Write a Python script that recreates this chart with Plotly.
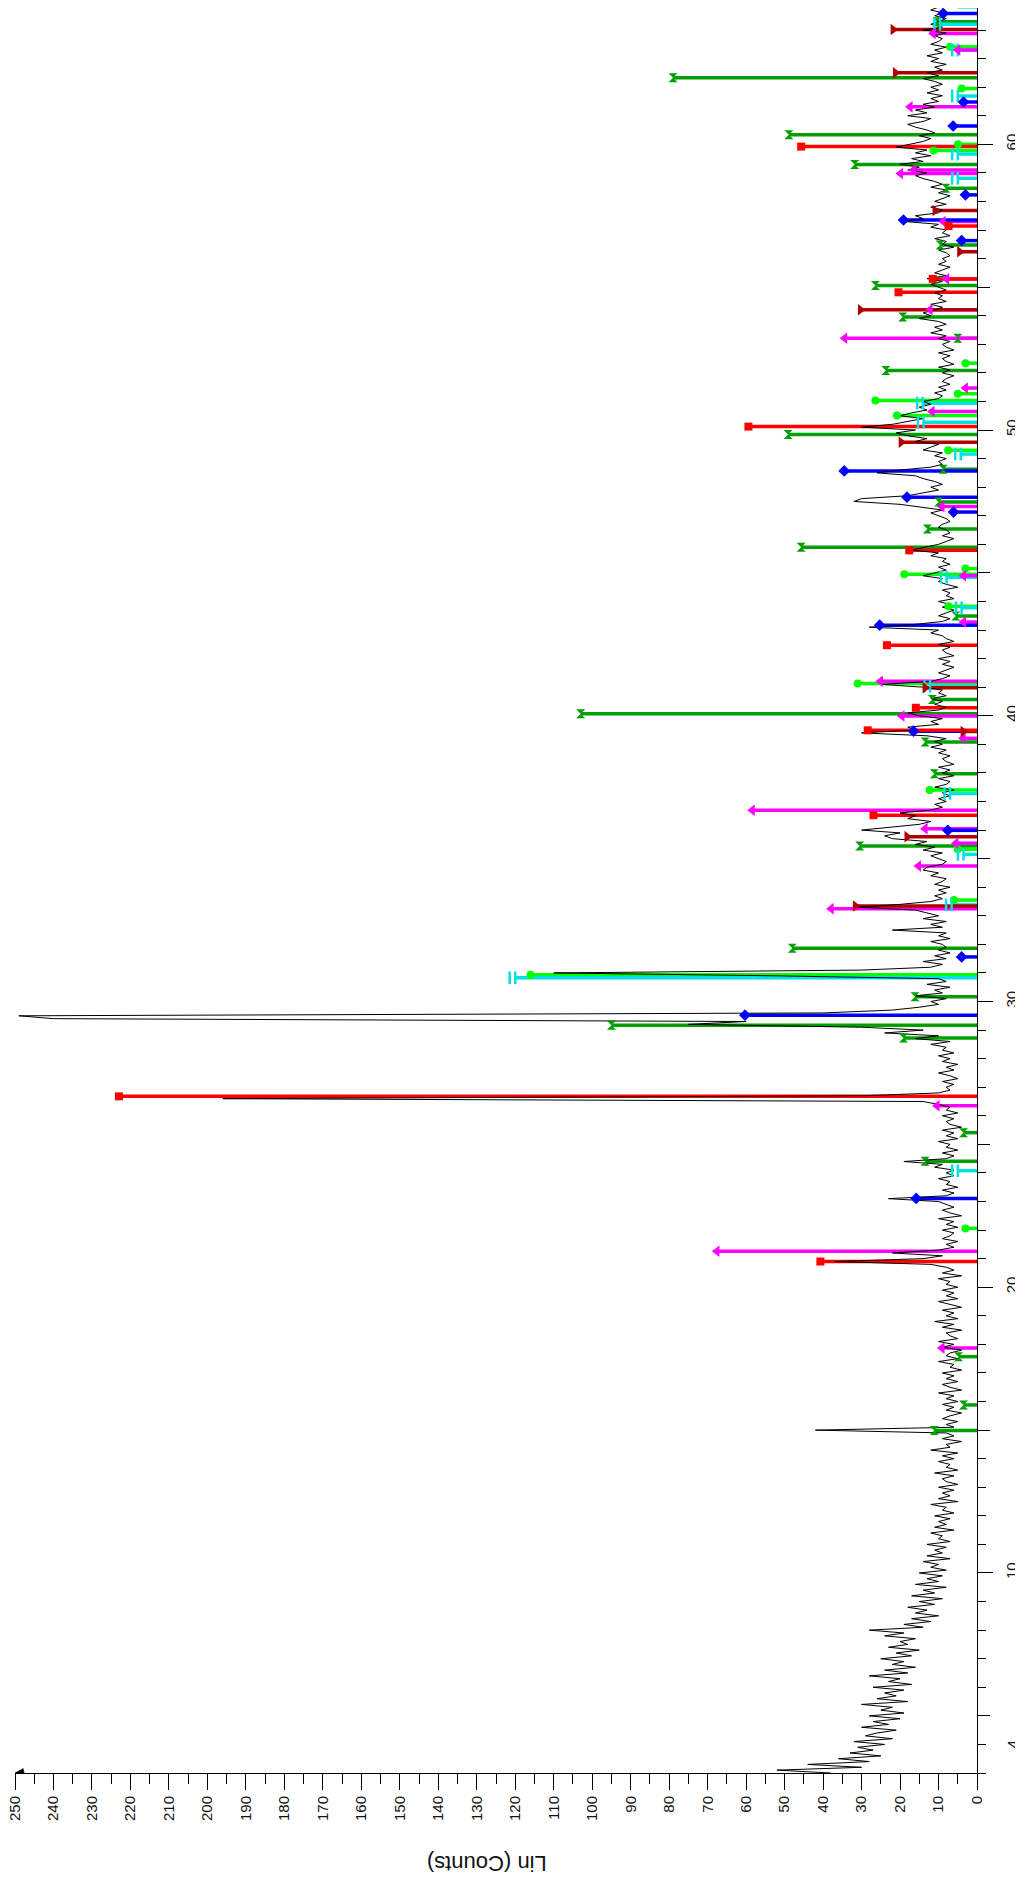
import numpy as np
import plotly.graph_objects as go

# ---------------- data ----------------
two_theta_start = 3.0
two_theta_step = 0.1

counts_03_14 = [
    38, 52, 30, 44, 28, 36, 25, 33, 27, 31,
    24, 32, 22, 29, 26, 21, 30, 23, 27, 20,
    28, 19, 25, 22, 30, 18, 26, 21, 24, 19,
    27, 17, 23, 20, 28, 18, 24, 16, 22, 19,
    25, 17, 21, 15, 23, 18, 20, 16, 24, 19,
    28, 14, 19, 12, 17, 10, 16, 13, 18, 11,
    15, 9, 17, 11, 14, 8, 16, 10, 13, 9,
    15, 8, 12, 10, 14, 7, 13, 9, 11, 8,
    13, 7, 10, 9, 12, 6, 11, 8, 10, 7,
    11, 6, 9, 8, 12, 5, 10, 7, 9, 6,
    10, 5, 8, 9, 6, 11, 5, 8, 7, 10,
    6, 9, 5, 12, 7, 8, 4, 9, 6, 8,
]
counts_15_29 = [
    42, 6, 8, 5, 9, 7, 4, 8, 6, 9,
    5, 8, 6, 10, 4, 7, 9, 5, 8, 6,
    9, 4, 7, 6, 10, 5, 8, 7, 4, 9,
    6, 10, 5, 7, 8, 4, 9, 6, 11, 5,
    8, 6, 9, 4, 7, 10, 5, 8, 6, 9,
    5, 8, 7, 10, 4, 9, 6, 8, 12, 37,
    14, 9, 22, 10, 6, 8, 5, 9, 7, 6,
    9, 5, 8, 6, 10, 4, 7, 9, 6, 8,
    10, 23, 8, 6, 9, 5, 8, 7, 10, 6,
    8, 6, 11, 9, 19, 8, 6, 9, 5, 8,
    7, 10, 5, 8, 6, 9, 4, 7, 8, 6,
    9, 5, 8, 7, 10, 14, 196, 30, 10, 7,
    8, 6, 9, 5, 7, 10, 6, 8, 5, 9,
    7, 10, 6, 9, 8, 12, 7, 16, 10, 24,
    14, 30, 75, 60, 240, 249, 40, 22, 15, 10,
]
counts_30_44 = [
    12, 8, 16, 9, 11, 7, 13, 8, 10, 53,
    110, 30, 12, 9, 14, 8, 11, 7, 10, 8,
    9, 12, 7, 10, 8, 22, 9, 12, 8, 14,
    10, 13, 16, 31, 20, 12, 9, 11, 8, 10,
    7, 11, 9, 8, 12, 10, 14, 13, 9, 8,
    10, 12, 9, 14, 11, 16, 13, 22, 24, 20,
    30, 22, 15, 12, 18, 16, 20, 12, 9, 11,
    8, 10, 7, 9, 6, 11, 8, 7, 10, 6,
    9, 7, 10, 6, 8, 9, 7, 10, 8, 12,
    9, 11, 8, 13, 30, 16, 18, 10, 12, 9,
    15, 18, 10, 8, 11, 9, 12, 8, 10, 9,
    14, 25, 12, 9, 7, 10, 8, 6, 9, 7,
    10, 6, 8, 9, 7, 10, 6, 8, 9, 12,
    10, 28, 16, 9, 7, 10, 8, 6, 9, 7,
    10, 6, 8, 7, 9, 5, 8, 10, 9, 14,
]
counts_45_65 = [
    11, 8, 10, 7, 9, 8, 12, 10, 17, 13,
    10, 8, 6, 9, 7, 8, 10, 9, 7, 8,
    10, 12, 9, 15, 20, 32, 30, 18, 14, 10,
    12, 9, 11, 14, 16, 26, 20, 12, 9, 10,
    8, 11, 9, 14, 12, 10, 16, 13, 18, 21,
    16, 30, 22, 18, 14, 20, 17, 13, 15, 12,
    14, 10, 9, 11, 8, 10, 7, 9, 8, 6,
    9, 7, 10, 6, 8, 9, 7, 10, 6, 8,
    9, 7, 10, 8, 12, 9, 11, 8, 10, 15,
    12, 14, 11, 9, 12, 8, 10, 9, 11, 8,
    10, 12, 9, 13, 8, 11, 9, 7, 10, 8,
    9, 7, 8, 10, 6, 9, 8, 11, 7, 9,
    8, 12, 10, 19, 14, 16, 10, 9, 12, 8,
    11, 9, 7, 10, 8, 12, 9, 11, 14, 16,
    13, 18, 15, 20, 14, 17, 12, 16, 13, 21,
    17, 14, 12, 15, 11, 13, 16, 18, 14, 12,
    18, 13, 16, 11, 14, 10, 12, 9, 13, 10,
    12, 9, 11, 14, 10, 13, 9, 11, 8, 12,
    10, 13, 9, 11, 8, 12, 10, 9, 11, 8,
    14, 9, 12, 10, 8, 11, 9, 12, 10, 8,
    10,
]

# phase stick patterns (2theta, intensity)
dgreen_pos = [14.99, 15.88, 17.57, 24.41, 25.41, 28.72, 29.17, 30.17, 31.86, 35.44,
              37.97, 39.08, 40.07, 40.57, 43.49, 45.90, 46.54, 47.48, 48.63, 49.84,
              52.08, 53.21, 53.96, 55.06, 56.48, 58.46, 59.29, 60.33, 62.33, 64.29]
dgreen_int = [11.1, 3.5, 4.8, 13.5, 3.5, 19.1, 95, 16.1, 48.0, 30.5,
              11.1, 13.5, 103, 11.6, 5.5, 45.7, 12.9, 10.0, 8.8, 49.1,
              23.7, 5, 19.3, 26.4, 9.6, 8.1, 31.8, 48.9, 79, 10.4]

lgreen_pos = [22.06, 30.94, 33.55, 35.33, 37.40, 41.13, 43.83, 44.95, 45.15, 49.29,
              50.51, 51.03, 51.27, 52.34, 59.78, 60.00, 61.95, 63.41]
lgreen_int = [3, 116, 6, 5, 12.3, 31.0, 7.4, 18.9, 3, 7.5,
              20.8, 26.4, 5, 3, 11.3, 4.9, 4, 7]

red_pos = [20.90, 26.68, 36.52, 39.49, 40.28, 42.47, 45.79, 50.12, 54.82, 55.29, 57.14, 59.92]
red_int = [40.7, 223, 26.9, 28.4, 15.9, 23.4, 17.6, 59.4, 20.4, 11.5, 7.4, 45.7]

dred_pos = [33.34, 35.77, 39.45, 40.98, 49.57, 54.21, 56.24, 57.68, 62.50, 64.02]
dred_int = [31.6, 18.2, 3.6, 13.5, 19.7, 30.3, 4.5, 10.9, 21.2, 21.8]

magenta_pos = [17.87, 21.26, 26.35, 33.25, 34.74, 35.54, 36.05, 36.69, 39.21, 39.99,
               41.21, 43.28, 44.90, 47.32, 50.65, 51.47, 53.21, 54.21, 55.29, 57.30,
               58.98, 59.10, 61.31, 63.30, 63.88]
magenta_int = [9.1, 67.6, 10.4, 37.9, 15.2, 5.5, 13.5, 58.4, 3.6, 19.5,
               25.1, 3.5, 3.5, 9.1, 11.7, 3, 34.4, 12.2, 7.9, 8.8,
               19.9, 16.5, 17.4, 5, 11.4]

blue_pos = [23.11, 29.52, 31.56, 35.99, 39.46, 43.17, 47.13, 47.65, 48.57, 56.63,
            57.35, 58.23, 60.64, 61.48, 64.58]
blue_int = [15.8, 60.3, 4.0, 7.6, 16.5, 25.3, 6.1, 18.2, 34.5, 4,
            19.1, 3, 6.2, 3.5, 8.8]

cyan_pos = [24.08, 30.83, 33.38, 35.15, 37.28, 41.03, 43.78, 44.85, 49.16, 50.27,
            50.94, 58.81, 59.66, 61.69, 63.30, 64.20, 64.81]
cyan_int = [5, 120, 6.6, 3.5, 7, 12.2, 4, 7.9, 4.2, 13.9,
            14.1, 5, 5, 5, 5, 9.6, 5]

intensity_ticks = list(range(0, 251, 10))
two_theta_ticks = [10, 20, 30, 40, 50, 60]

# ---------------- figure ----------------
counts = counts_03_14 + counts_15_29 + counts_30_44 + counts_45_65
two_theta = np.round(two_theta_start + two_theta_step * np.arange(len(counts)), 3)

FONT = "Liberation Sans, Arial, Helvetica, sans-serif"

phases = [
    (dgreen_pos, dgreen_int, "rgb(0,160,0)", "hourglass", 9),
    (lgreen_pos, lgreen_int, "rgb(0,255,0)", "circle", 8),
    (cyan_pos, cyan_int, "rgb(0,225,225)", None, 9),
    (magenta_pos, magenta_int, "rgb(255,0,255)", "triangle-left", 10),
    (blue_pos, blue_int, "rgb(0,0,255)", "diamond", 9),
    (dred_pos, dred_int, "rgb(176,0,0)", "triangle-right", 10),
    (red_pos, red_int, "rgb(255,0,0)", "square", 8),
]

fig = go.Figure()

for pos, inten, color, sym, size in phases:
    xs, ys = [], []
    for p, v in zip(pos, inten):
        xs += [0, v, None]
        ys += [p, p, None]
    fig.add_trace(go.Scatter(x=xs, y=ys, mode="lines",
                             line=dict(color=color, width=3.5),
                             hoverinfo="skip", showlegend=False))

fig.add_trace(go.Scatter(x=counts, y=two_theta, mode="lines",
                         line=dict(color="black", width=1),
                         showlegend=False))

for pos, inten, color, sym, size in phases:
    if sym is None:
        for off in (0.0, 1.45):
            fig.add_trace(go.Scatter(
                x=[v + off for v in inten], y=pos, mode="markers",
                marker=dict(symbol="line-ns", size=9,
                            line=dict(color=color, width=2.5)),
                cliponaxis=False, showlegend=False))
    else:
        fig.add_trace(go.Scatter(
            x=inten, y=pos, mode="markers",
            marker=dict(symbol=sym, size=size, color=color,
                        line=dict(width=0)),
            cliponaxis=False, showlegend=False))

# the page body has an 8px margin, so the figure is 8px smaller than the window
fig.update_layout(
    width=1015, height=1869,
    margin=dict(l=7, r=46, t=0, b=104, autoexpand=False),
    paper_bgcolor="white", plot_bgcolor="white",
    font=dict(family=FONT, size=15, color="#111"),
    showlegend=False,
    xaxis=dict(
        range=[250, 0], showgrid=False, zeroline=False,
        showline=True, linecolor="black", linewidth=1,
        tickmode="array", tickvals=intensity_ticks,
        ticktext=[str(t) for t in intensity_ticks],
        ticks="outside", ticklen=16, tickwidth=1, tickcolor="black",
        tickangle=-90, ticklabelstandoff=0, ticklabeloverflow="allow",
        tickfont=dict(family=FONT, size=15, color="#111"),
        minor=dict(dtick=5, tick0=0, ticks="outside", ticklen=10,
                   tickcolor="black", tickwidth=1),
    ),
    yaxis=dict(
        range=[3, 64.77], side="right", showgrid=False, zeroline=False,
        showline=True, linecolor="black", linewidth=1,
        tickmode="array", tickvals=two_theta_ticks,
        ticktext=[str(t) for t in two_theta_ticks],
        ticks="outside", ticklen=15, tickwidth=1, tickcolor="black",
        tickangle=-90, ticklabelstandoff=6, ticklabeloverflow="allow",
        tickfont=dict(family=FONT, size=15, color="#111"),
        minor=dict(dtick=1, tick0=0, ticks="outside", ticklen=8,
                   tickcolor="black", tickwidth=1),
    ),
    yaxis2=dict(
        range=[3, 64.77], side="right", overlaying="y", anchor="x",
        showgrid=False, zeroline=False, showline=False,
        dtick=5, tick0=0, ticks="outside", ticklen=12, tickcolor="black",
        showticklabels=False,
    ),
)

# dummy trace so yaxis2 is rendered
fig.add_trace(go.Scatter(x=[None], y=[None], yaxis="y2", showlegend=False))

fig.add_annotation(text="4", xref="paper", yref="y", x=1.0, y=4,
                   xanchor="center", yanchor="middle", xshift=35,
                   textangle=-90, showarrow=False,
                   font=dict(family=FONT, size=15, color="#111"))

fig.add_annotation(text="Lin (Counts)", xref="paper", yref="paper",
                   x=0.49, y=-0.0516, xanchor="center", yanchor="middle",
                   textangle=180, showarrow=False,
                   font=dict(family=FONT, size=22, color="#111"))

# small arrowhead at the end of the intensity axis
fig.add_shape(type="path", xref="paper", yref="paper",
              path="M 0,0 L 0.0095,0 L 0.0085,0.0025 Z",
              fillcolor="black", line=dict(color="black", width=0.5))

fig.write_html("out.html")
